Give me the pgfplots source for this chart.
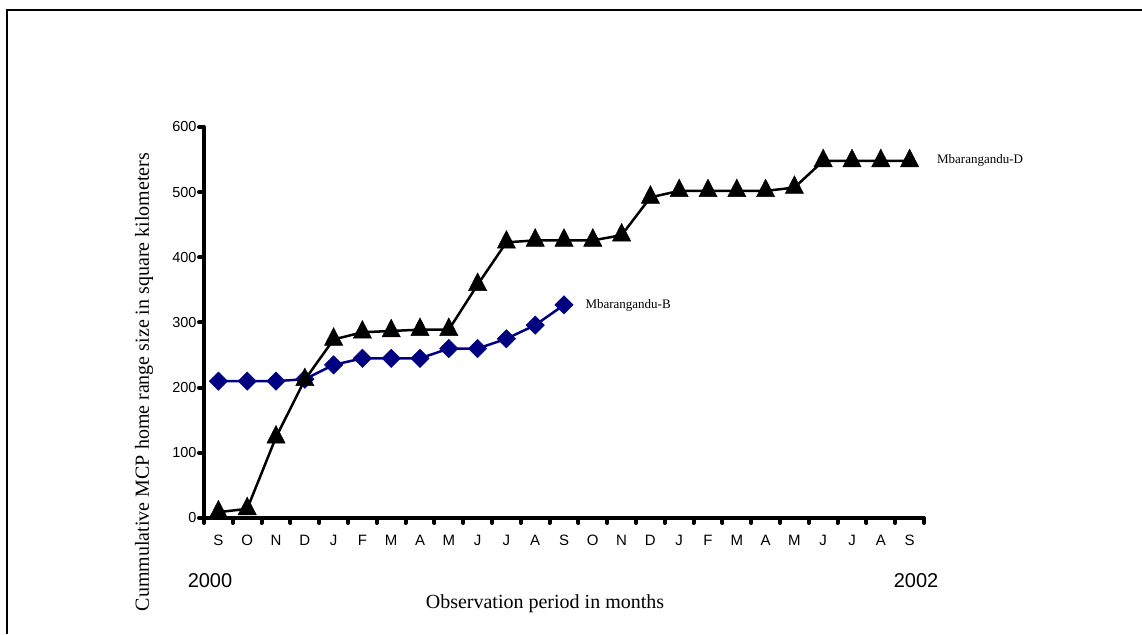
\documentclass[border=0pt]{standalone}
\usepackage{fontspec}
\setmainfont{Liberation Serif}
\newfontfamily\arial{Liberation Sans}
\usepackage{pgfplots}
\pgfplotsset{compat=1.18}
\definecolor{navyb}{RGB}{0,0,128}
\begin{document}
\begin{tikzpicture}[x=1pt,y=1pt]
\useasboundingbox (0,0) rectangle (1142,634);
\draw[line width=2.5pt] (7,0) -- (7,624) -- (1142,624);
\begin{axis}[
  at={(204pt,116pt)}, anchor=south west,
  scale only axis, width=720pt, height=391pt,
  xmin=-0.5, xmax=24.5, ymin=0, ymax=600,
  clip=false,
  axis lines=left,
  axis line style={line width=4pt,-},
  xtick={0,...,24},
  xticklabels={S,O,N,D,J,F,M,A,M,J,J,A,S,O,N,D,J,F,M,A,M,J,J,A,S},
  minor xtick={-0.5,0.5,...,24.5},
  major x tick style={draw=none},
  minor x tick style={line width=4pt, line cap=round, black},
  ytick={0,100,...,600},
  major y tick style={line width=4pt, line cap=round, black},
  tick align=outside,
  major tick length=5pt,
  minor tick length=5pt,
  /pgf/number format/assume math mode=true,
  xticklabel style={font=\arial\fontsize{15}{15}\selectfont, text height=11pt, text depth=0pt, yshift=-8pt},
  yticklabel style={font=\arial\fontsize{14.5}{14.5}\selectfont, xshift=1pt},
]
\addplot[navyb, line width=2.5pt, mark=square*, mark size=6.5pt, mark options={rotate=45, fill=navyb, draw=navyb, line width=0.5pt}]
coordinates {(0,210)(1,210)(2,210)(3,213)(4,235)(5,245)(6,245)(7,245)(8,260)(9,260)(10,275)(11,296)(12,327)};
\addplot[black, line width=2.5pt, mark=triangle*, mark size=10.5pt, mark options={yscale=1.12, fill=black, line width=0.5pt}]
coordinates {(0,9)(1,14)(2,124)(3,212)(4,274)(5,285)(6,287)(7,289)(8,289)(9,358)(10,423)(11,426)(12,426)(13,426)(14,434)(15,492)(16,502)(17,502)(18,502)(19,502)(20,507)(21,548)(22,548)(23,548)(24,548)};
\node[anchor=west, xshift=18pt, font=\fontsize{13}{13}\selectfont] at (axis cs:12,327) {Mbarangandu-B};
\node[anchor=west, xshift=24pt, font=\fontsize{13}{13}\selectfont] at (axis cs:24,548) {Mbarangandu-D};
\end{axis}
\node[font=\arial\fontsize{20}{20}\selectfont] at (210,53) {2000};
\node[font=\arial\fontsize{20}{20}\selectfont] at (916,53) {2002};
\node[font=\fontsize{20}{20}\selectfont] at (545,30) {Observation period in months};
\node[rotate=90, font=\fontsize{20}{20}\selectfont] at (144,252) {Cummulative MCP home range size in square kilometers};
\end{tikzpicture}
\end{document}
